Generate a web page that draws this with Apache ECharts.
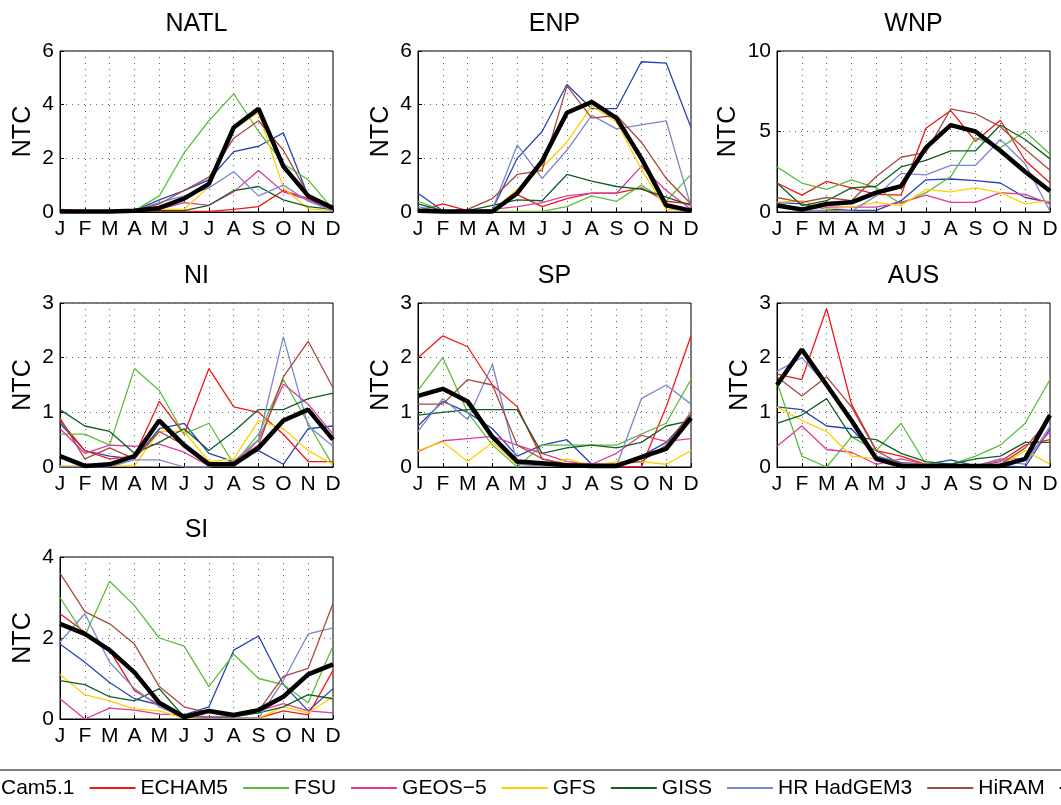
<!DOCTYPE html>
<html>
<head>
<meta charset="utf-8">
<title>NTC seasonal cycle by basin</title>
<script src="https://cdn.jsdelivr.net/npm/echarts@6/dist/echarts.min.js"></script>
<style>
  html, body { margin: 0; padding: 0; background: #fff; }
  #chart { width: 1061px; height: 805px; }
</style>
</head>
<body>
<div id="chart"></div>
<script>
// Month tick labels
const months = ['J', 'F', 'M', 'A', 'M', 'J', 'J', 'A', 'S', 'O', 'N', 'D'];

// Models (last entry = observations)
const models = ['Cam5.1', 'ECHAM5', 'FSU', 'GEOS\u22125', 'GFS', 'GISS', 'HR HadGEM3', 'HiRAM', 'OBS'];
const modelColors = ['#2545b2', '#f01818', '#5cbd3a', '#e2399b', '#ffd000', '#105e24', '#7b86cc', '#a64a3d', '#000000'];

// Basins
const basins = ['NATL', 'ENP', 'WNP', 'NI', 'SP', 'AUS', 'SI'];
const yMax = [6, 6, 10, 3, 3, 3, 4];
const yStep = [2, 2, 5, 1, 1, 1, 2];

// Monthly number of tropical cyclones, one row per model (same order as models)
const NATL = [
  [0.02, 0.02, 0.02, 0.05, 0.45, 0.8, 1.2, 2.25, 2.45, 2.95, 0.6, 0.05],
  [0.1, 0.05, 0.02, 0.02, 0.02, 0.02, 0.02, 0.1, 0.2, 0.8, 0.5, 0.05],
  [0.02, 0.02, 0.02, 0.05, 0.6, 2.2, 3.4, 4.4, 3.0, 1.8, 1.2, 0.1],
  [0.02, 0.02, 0.02, 0.05, 0.1, 0.35, 0.25, 0.75, 1.55, 0.75, 0.45, 0.05],
  [0.02, 0.02, 0.05, 0.05, 0.1, 0.1, 0.95, 3.1, 3.7, 0.9, 0.12, 0.05],
  [0.02, 0.02, 0.02, 0.05, 0.05, 0.05, 0.25, 0.8, 0.95, 0.45, 0.2, 0.1],
  [0.02, 0.02, 0.02, 0.05, 0.35, 0.6, 0.9, 1.5, 0.6, 1.0, 0.4, 0.05],
  [0.02, 0.02, 0.02, 0.05, 0.3, 0.8, 1.3, 2.75, 3.4, 2.3, 0.65, 0.1],
  [0.02, 0.02, 0.02, 0.05, 0.15, 0.5, 1.05, 3.15, 3.85, 1.7, 0.6, 0.15]
];
const ENP = [
  [0.7, 0.05, 0.02, 0.1, 2.0, 3.0, 4.75, 3.85, 3.85, 5.6, 5.55, 3.15],
  [0.05, 0.3, 0.05, 0.05, 0.65, 0.2, 0.5, 0.7, 0.7, 0.9, 0.4, 0.3],
  [0.4, 0.05, 0.02, 0.02, 0.02, 0.02, 0.2, 0.6, 0.4, 1.0, 0.4, 1.4],
  [0.05, 0.02, 0.02, 0.1, 0.2, 0.35, 0.6, 0.7, 0.7, 1.7, 0.8, 0.1],
  [0.05, 0.02, 0.02, 0.05, 0.85, 1.65, 2.6, 3.95, 3.35, 1.6, 0.1, 0.05],
  [0.3, 0.05, 0.05, 0.25, 0.45, 0.42, 1.4, 1.15, 0.95, 0.85, 0.55, 0.25],
  [0.2, 0.02, 0.02, 0.1, 2.5, 1.25, 2.3, 3.6, 3.1, 3.25, 3.4, 0.2],
  [0.1, 0.02, 0.1, 0.5, 1.4, 1.55, 4.7, 3.5, 3.6, 2.6, 1.25, 0.3],
  [0.05, 0.02, 0.02, 0.02, 0.7, 1.9, 3.7, 4.1, 3.5, 2.0, 0.25, 0.05]
];
const WNP = [
  [0.6, 0.5, 0.2, 0.1, 0.1, 0.7, 2.0, 2.05, 1.95, 1.8, 0.9, 0.6],
  [1.8, 1.05, 1.9, 1.5, 1.1, 1.05, 5.2, 6.3, 4.4, 5.7, 3.2, 1.8],
  [2.8, 1.8, 1.4, 2.0, 1.5, 0.5, 1.2, 2.2, 4.6, 4.0, 5.0, 3.6],
  [0.5, 0.2, 0.3, 0.3, 0.3, 0.6, 1.05, 0.6, 0.6, 1.2, 1.1, 0.5],
  [0.6, 0.7, 0.2, 0.3, 0.6, 0.4, 1.4, 1.25, 1.5, 1.2, 0.5, 0.7],
  [1.8, 0.4, 0.7, 1.5, 1.6, 2.8, 3.2, 3.8, 3.8, 5.4, 4.5, 3.3],
  [0.6, 0.1, 0.1, 0.05, 1.0, 2.4, 2.3, 2.9, 2.9, 4.5, 3.0, 0.05],
  [0.9, 0.6, 0.9, 0.7, 2.2, 3.4, 3.7, 6.4, 6.1, 5.3, 3.9, 2.6],
  [0.4, 0.15, 0.5, 0.6, 1.2, 1.6, 4.0, 5.4, 5.0, 3.8, 2.5, 1.3]
];
const NI = [
  [0.8, 0.3, 0.2, 0.15, 0.7, 0.8, 0.25, 0.1, 0.3, 0.05, 0.7, 0.75],
  [0.85, 0.3, 0.15, 0.2, 1.2, 0.6, 1.8, 1.1, 1.0, 0.6, 0.1, 0.1],
  [0.6, 0.6, 0.4, 1.8, 1.4, 0.6, 0.8, 0.05, 0.6, 1.6, 0.8, 0.02],
  [0.7, 0.25, 0.4, 0.38, 0.42, 0.27, 0.02, 0.02, 0.5, 1.52, 1.15, 0.6],
  [0.02, 0.02, 0.02, 0.02, 0.65, 0.65, 0.1, 0.15, 0.85, 0.7, 0.3, 0.05],
  [1.05, 0.75, 0.65, 0.25, 0.45, 0.7, 0.3, 0.65, 1.05, 1.05, 1.25, 1.35],
  [0.0, 0.0, 0.0, 0.13, 0.13, 0.0, 0.0, 0.1, 0.5, 2.38, 0.75, 0.38],
  [0.9, 0.15, 0.35, 0.15, 0.65, 0.4, 0.05, 0.1, 0.4, 1.65, 2.3, 1.45],
  [0.2, 0.02, 0.05, 0.2, 0.85, 0.4, 0.05, 0.05, 0.35, 0.85, 1.05, 0.5]
];
const SP = [
  [0.75, 1.2, 1.0, 0.7, 0.2, 0.4, 0.5, 0.05, 0.05, 0.2, 0.45, 0.95],
  [2.0, 2.4, 2.2, 1.5, 1.1, 0.15, 0.05, 0.02, 0.0, 0.0, 1.1, 2.4],
  [1.4, 2.0, 1.0, 0.4, 0.0, 0.4, 0.4, 0.4, 0.4, 0.6, 0.8, 1.6],
  [0.28, 0.48, 0.52, 0.56, 0.4, 0.25, 0.1, 0.05, 0.25, 0.58, 0.47, 0.52],
  [0.3, 0.46, 0.1, 0.45, 0.05, 0.02, 0.15, 0.02, 0.1, 0.1, 0.05, 0.3],
  [0.95, 1.0, 1.05, 1.05, 1.05, 0.25, 0.35, 0.4, 0.35, 0.45, 0.75, 0.85],
  [0.65, 1.25, 0.87, 1.88, 0.05, 0.02, 0.02, 0.02, 0.02, 1.25, 1.5, 1.15],
  [1.15, 1.15, 1.6, 1.5, 0.4, 0.15, 0.05, 0.05, 0.05, 0.1, 0.4, 1.0],
  [1.3, 1.43, 1.2, 0.55, 0.1, 0.07, 0.03, 0.02, 0.02, 0.18, 0.33, 0.9]
];
const AUS = [
  [1.1, 1.05, 0.75, 0.7, 0.2, 0.08, 0.05, 0.13, 0.02, 0.02, 0.0, 0.7],
  [1.7, 1.6, 2.9, 1.15, 0.3, 0.2, 0.05, 0.02, 0.02, 0.1, 0.4, 0.5],
  [1.55, 0.2, 0.0, 0.55, 0.3, 0.8, 0.05, 0.05, 0.2, 0.4, 0.8, 1.6],
  [0.38, 0.75, 0.32, 0.27, 0.05, 0.15, 0.05, 0.02, 0.02, 0.15, 0.15, 0.65],
  [1.1, 0.85, 0.65, 0.2, 0.15, 0.05, 0.05, 0.03, 0.03, 0.03, 0.3, 0.05],
  [0.8, 0.95, 1.25, 0.55, 0.5, 0.25, 0.1, 0.05, 0.15, 0.2, 0.45, 0.45],
  [1.75, 2.0, 1.5, 0.9, 0.2, 0.05, 0.02, 0.02, 0.02, 0.12, 0.05, 0.75],
  [1.65, 1.3, 1.65, 1.1, 0.3, 0.05, 0.02, 0.02, 0.02, 0.05, 0.35, 0.9],
  [1.5, 2.15, 1.5, 0.85, 0.15, 0.02, 0.02, 0.02, 0.02, 0.02, 0.15, 0.95]
];
const SI = [
  [1.85, 1.4, 0.9, 0.5, 0.35, 0.1, 0.3, 1.7, 2.05, 0.85, 0.2, 0.75],
  [2.6, 2.15, 1.7, 0.7, 0.35, 0.05, 0.05, 0.02, 0.02, 0.2, 0.1, 1.2],
  [3.0, 2.05, 3.4, 2.8, 2.0, 1.8, 0.8, 1.6, 1.0, 0.85, 0.4, 1.8],
  [0.5, 0.0, 0.27, 0.22, 0.12, 0.1, 0.05, 0.05, 0.2, 0.38, 0.2, 0.15],
  [1.1, 0.6, 0.45, 0.25, 0.2, 0.02, 0.02, 0.02, 0.02, 0.3, 0.15, 0.55],
  [0.95, 0.85, 0.55, 0.45, 0.75, 0.05, 0.02, 0.05, 0.15, 0.3, 0.6, 0.5],
  [1.9, 2.6, 1.4, 0.75, 0.3, 0.05, 0.02, 0.02, 0.02, 0.95, 2.1, 2.25],
  [3.6, 2.65, 2.35, 1.85, 0.8, 0.3, 0.15, 0.05, 0.2, 1.05, 1.25, 2.85],
  [2.35, 2.1, 1.7, 1.15, 0.4, 0.05, 0.2, 0.1, 0.22, 0.55, 1.1, 1.35]
];
const basinData = [NATL, ENP, WNP, NI, SP, AUS, SI];

// Panel layout (pixels)
const colLeft = [60, 418, 777];
const rowTop = [51, 303, 557];
const rowHeight = [161, 164, 162];
const panelWidth = 273;
const nameGaps = [24, 24, 36, 24, 24, 24, 24];

const FONT = 'Liberation Sans, Arial, Helvetica, sans-serif';

const grids = [], xAxes = [], yAxes = [], titles = [], series = [];

basins.forEach((b, i) => {
  const col = i % 3, row = Math.floor(i / 3);
  grids.push({
    left: colLeft[col], top: rowTop[row], width: panelWidth, height: rowHeight[row],
    show: true, borderColor: '#000', borderWidth: 1, backgroundColor: '#fff'
  });
  titles.push({
    text: b,
    left: colLeft[col] + panelWidth / 2,
    textAlign: 'center',
    top: rowTop[row] - 39,
    padding: 0,
    textStyle: { fontFamily: FONT, fontSize: 25, fontWeight: 'normal', color: '#000', lineHeight: 25 }
  });
  xAxes.push({
    type: 'category', gridIndex: i, data: months, boundaryGap: false,
    axisLine: { show: true, lineStyle: { color: '#000', width: 1 } },
    axisTick: { show: true, inside: true, length: 4, lineStyle: { color: '#000' } },
    axisLabel: { fontFamily: FONT, fontSize: 21, color: '#000', margin: 7, lineHeight: 21, interval: 0 },
    splitLine: { show: true, lineStyle: { color: '#666', type: [1, 5], width: 1 } }
  });
  yAxes.push({
    type: 'value', gridIndex: i, min: 0, max: yMax[i], interval: yStep[i],
    name: 'NTC', nameLocation: 'middle', nameGap: nameGaps[i],
    nameTextStyle: { fontFamily: FONT, fontSize: 25, color: '#000', lineHeight: 25 },
    axisLine: { show: true, lineStyle: { color: '#000', width: 1 } },
    axisTick: { show: true, inside: true, length: 4, lineStyle: { color: '#000' } },
    axisLabel: { fontFamily: FONT, fontSize: 21, color: '#000', margin: 6 },
    splitLine: { show: true, lineStyle: { color: '#666', type: [1, 5], width: 1 } }
  });
  basinData[i].forEach((vals, m) => {
    const isObs = m === models.length - 1;
    series.push({
      type: 'line', name: models[m], xAxisIndex: i, yAxisIndex: i,
      data: vals, symbol: 'none', z: isObs ? 5 : 3,
      lineStyle: { color: modelColors[m], width: isObs ? 4.5 : 1.3 },
      itemStyle: { color: modelColors[m] },
      emphasis: { disabled: true },
      silent: true
    });
  });
});

const chart = echarts.init(document.getElementById('chart'), null, { renderer: 'canvas' });
chart.setOption({
  animation: false,
  backgroundColor: '#fff',
  title: titles,
  grid: grids,
  xAxis: xAxes,
  yAxis: yAxes,
  legend: {
    data: models,
    left: -56, top: 770, width: 1400,
    orient: 'horizontal',
    itemWidth: 46, itemHeight: 22, itemGap: 14,
    padding: [7, 5, 20, 5],
    borderColor: '#000', borderWidth: 1,
    selectedMode: false,
    itemStyle: { opacity: 0 },
    textStyle: { fontFamily: FONT, fontSize: 21, color: '#000', lineHeight: 22 }
  },
  series: series
});
</script>
</body>
</html>
